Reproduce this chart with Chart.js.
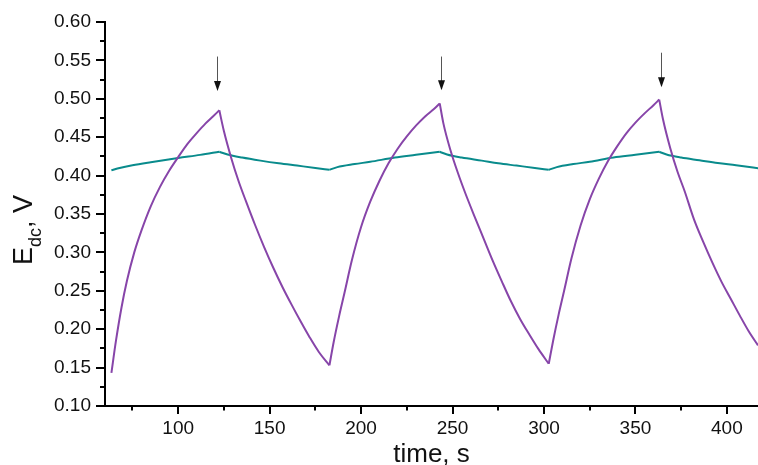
<!DOCTYPE html>
<html>
<head>
<meta charset="utf-8">
<script src="https://cdn.jsdelivr.net/npm/chart.js@4/dist/chart.umd.min.js"></script>
<style>
  body { margin: 0; background: #fff; }
  canvas { display: block; }
</style>
</head>
<body>
<canvas id="myChart" width="758" height="465"></canvas>
<script>
// purple curve: times (s) and values (V)
const purpleTime = [
    63.5, 66, 69, 72, 76, 80, 85, 90, 95, 100, 105, 110, 115, 119, 122.5,
    125, 129, 133, 137, 142, 147, 152, 157, 162, 167, 172, 177, 182.7,
    185, 188, 191, 195, 200, 205, 210, 215, 220, 225, 230, 235, 240, 243,
    245, 249, 253, 257, 262, 267, 272, 277, 282, 287, 292, 297, 302.6,
    305, 308, 311, 315, 320, 325, 330, 335, 340, 345, 350, 355, 360, 363,
    365, 369, 373, 377, 382, 387, 392, 397, 402, 407, 412, 417, 419
];
const purpleE = [
    0.143, 0.185, 0.228, 0.263, 0.300, 0.329, 0.360, 0.385, 0.406, 0.424, 0.441, 0.455, 0.468, 0.477, 0.485,
    0.458, 0.423, 0.393, 0.367, 0.336, 0.307, 0.280, 0.255, 0.232, 0.210, 0.189, 0.170, 0.153,
    0.183, 0.217, 0.248, 0.290, 0.333, 0.366, 0.393, 0.416, 0.435, 0.451, 0.465, 0.477, 0.487, 0.494,
    0.468, 0.432, 0.403, 0.377, 0.347, 0.318, 0.289, 0.262, 0.236, 0.213, 0.193, 0.174, 0.155,
    0.185, 0.219, 0.250, 0.292, 0.335, 0.369, 0.396, 0.419, 0.438, 0.455, 0.469, 0.481, 0.492, 0.499,
    0.474, 0.436, 0.405, 0.379, 0.343, 0.314, 0.287, 0.262, 0.240, 0.218, 0.197, 0.179, 0.172
];

// teal curve
const tealTime = [
    63.5, 68, 75, 85, 100, 112, 122.5,
    127, 135, 145, 155, 165, 175, 182.7,
    187, 196.5, 205, 218.5, 230, 243,
    247, 255, 266, 275, 285, 295, 302.6,
    307, 316, 325, 338, 350, 363,
    367, 375, 385, 395, 405, 419
];
const tealE = [
    0.407, 0.410, 0.4135, 0.4175, 0.423, 0.427, 0.431,
    0.4275, 0.4235, 0.4195, 0.416, 0.413, 0.410, 0.4075,
    0.411, 0.415, 0.418, 0.4235, 0.427, 0.431,
    0.4275, 0.4235, 0.4195, 0.416, 0.413, 0.410, 0.4075,
    0.411, 0.415, 0.418, 0.4235, 0.427, 0.431,
    0.4275, 0.4235, 0.420, 0.4165, 0.4135, 0.409
];

// arrows marking the switching moments
const arrowTime = [121.5, 243.5, 364];
const arrowTop = [0.555, 0.555, 0.560];
const arrowTip = [0.510, 0.511, 0.515];

const xTicks = [100, 150, 200, 250, 300, 350, 400];
const xMinor = [75, 125, 175, 225, 275, 325, 375];
const yTicks = [0.10, 0.15, 0.20, 0.25, 0.30, 0.35, 0.40, 0.45, 0.50, 0.55, 0.60];
const yMinor = [0.125, 0.175, 0.225, 0.275, 0.325, 0.375, 0.425, 0.475, 0.525, 0.575];

const fontFam = "'Liberation Sans', Arial, Helvetica, sans-serif";

// split a curve at its turning points so every rise/fall is smoothed on its own
// and the corners stay sharp
function segments(xs, ys) {
    let segs = [];
    let cur = [{ x: xs[0], y: ys[0] }];
    for (let i = 1; i < xs.length; i++) {
        cur.push({ x: xs[i], y: ys[i] });
        if (i < xs.length - 1 && (ys[i] - ys[i - 1]) * (ys[i + 1] - ys[i]) < 0) {
            segs.push(cur);
            cur = [{ x: xs[i], y: ys[i] }];
        }
    }
    segs.push(cur);
    return segs;
}

function makeSets(xs, ys, color) {
    return segments(xs, ys).map(pts => ({
        data: pts,
        borderColor: color,
        borderWidth: 2,
        pointRadius: 0,
        cubicInterpolationMode: 'monotone',
        fill: false
    }));
}

const extras = {
    id: 'extras',
    afterDraw(chart) {
        const ctx = chart.ctx;
        const x = chart.scales.x;
        const y = chart.scales.y;
        const area = chart.chartArea;

        // minor ticks
        ctx.save();
        ctx.strokeStyle = '#000';
        ctx.lineWidth = 2;
        ctx.beginPath();
        xMinor.forEach(v => {
            const px = Math.round(x.getPixelForValue(v));
            ctx.moveTo(px, area.bottom);
            ctx.lineTo(px, area.bottom + 4.5);
        });
        yMinor.forEach(v => {
            const py = Math.round(y.getPixelForValue(v));
            ctx.moveTo(area.left, py);
            ctx.lineTo(area.left - 5, py);
        });
        ctx.stroke();

        // arrows
        for (let i = 0; i < arrowTime.length; i++) {
            const px = Math.round(x.getPixelForValue(arrowTime[i])) + 0.5;
            const top = y.getPixelForValue(arrowTop[i]);
            const tip = y.getPixelForValue(arrowTip[i]);
            ctx.strokeStyle = '#555';
            ctx.lineWidth = 1;
            ctx.beginPath();
            ctx.moveTo(px, top);
            ctx.lineTo(px, tip - 8);
            ctx.stroke();
            ctx.fillStyle = '#111';
            ctx.beginPath();
            ctx.moveTo(px - 3.5, tip - 10);
            ctx.lineTo(px + 3.5, tip - 10);
            ctx.lineTo(px, tip);
            ctx.closePath();
            ctx.fill();
        }

        // y axis title with subscript
        ctx.fillStyle = '#111';
        ctx.translate(32, 265);
        ctx.rotate(-Math.PI / 2);
        ctx.textAlign = 'left';
        ctx.textBaseline = 'alphabetic';
        ctx.font = '27px ' + fontFam;
        ctx.fillText('E', 0, 0);
        let w = ctx.measureText('E').width;
        ctx.font = '18px ' + fontFam;
        ctx.fillText('dc', w, 9);
        w += ctx.measureText('dc').width;
        ctx.font = '27px ' + fontFam;
        ctx.fillText(', V', w, 0);
        ctx.restore();
    }
};

new Chart("myChart", {
    type: "line",
    data: {
        datasets: makeSets(purpleTime, purpleE, "#8745a9")
            .concat(makeSets(tealTime, tealE, "#098b8c"))
    },
    options: {
        responsive: false,
        animation: false,
        layout: { padding: { top: 22, left: 0, right: 0, bottom: 0 } },
        plugins: {
            legend: { display: false },
            tooltip: { enabled: false }
        },
        scales: {
            x: {
                type: 'linear',
                min: 60,
                max: 417,
                afterBuildTicks: s => { s.ticks = xTicks.map(v => ({ value: v })); },
                afterFit: s => { s.height = 59; },
                border: { color: '#000', width: 2 },
                grid: { drawOnChartArea: false, drawTicks: true, tickLength: 8, color: '#000', lineWidth: 2 },
                ticks: {
                    padding: 3,
                    color: '#111',
                    font: { family: fontFam, size: 19 },
                    maxRotation: 0,
                    callback: v => v
                },
                title: {
                    display: true,
                    text: 'time, s',
                    color: '#111',
                    font: { family: fontFam, size: 26, lineHeight: 0.75 },
                    padding: 0
                }
            },
            y: {
                min: 0.10,
                max: 0.60,
                afterBuildTicks: s => { s.ticks = yTicks.map(v => ({ value: v })); },
                afterFit: s => { s.width = 105; },
                border: { color: '#000', width: 2 },
                grid: { drawOnChartArea: false, drawTicks: true, tickLength: 9, color: '#000', lineWidth: 2 },
                ticks: {
                    padding: 5,
                    color: '#111',
                    font: { family: fontFam, size: 19 },
                    callback: v => v.toFixed(2)
                }
            }
        }
    },
    plugins: [extras]
});
</script>
</body>
</html>
